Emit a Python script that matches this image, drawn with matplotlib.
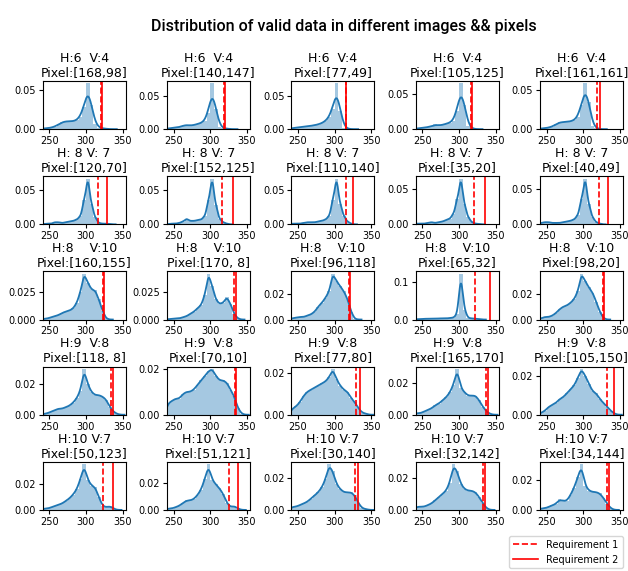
import math
import numpy as np
import matplotlib
matplotlib.use("Agg")
import matplotlib.pyplot as plt

# histogram bins shared by every panel (5 units wide)
bin_edges = np.arange(240, 356, 5)

row_labels = ["H:6  V:4", "H: 8 V: 7", "H:8    V:10", "H:9  V:8", "H:10 V:7"]
pixels = [
    ["[168,98]", "[140,147]", "[77,49]", "[105,125]", "[161,161]"],
    ["[120,70]", "[152,125]", "[110,140]", "[35,20]", "[40,49]"],
    ["[160,155]", "[170, 8]", "[96,118]", "[65,32]", "[98,20]"],
    ["[118, 8]", "[70,10]", "[77,80]", "[165,170]", "[105,150]"],
    ["[50,123]", "[51,121]", "[30,140]", "[32,142]", "[34,144]"],
]

# density per bin, one list per pixel
dens_h6 = [
    [0.001, 0.001, 0.002, 0.003, 0.006, 0.009, 0.010, 0.010, 0.010, 0.011, 0.016, 0.028, 0.058, 0.030, 0.006, 0.002, 0.001, 0.0005, 0, 0, 0, 0, 0],
    [0.001, 0.002, 0.002, 0.003, 0.005, 0.007, 0.005, 0.006, 0.008, 0.009, 0.012, 0.024, 0.069, 0.030, 0.004, 0.001, 0.001, 0, 0, 0, 0, 0, 0],
    [0.002, 0.002, 0.003, 0.004, 0.004, 0.005, 0.006, 0.007, 0.009, 0.012, 0.018, 0.030, 0.069, 0.028, 0.002, 0.0005, 0, 0, 0, 0, 0, 0, 0],
    [0.001, 0.002, 0.002, 0.003, 0.004, 0.007, 0.005, 0.006, 0.008, 0.009, 0.012, 0.026, 0.066, 0.035, 0.004, 0.001, 0, 0, 0, 0, 0, 0, 0],
    [0.001, 0.001, 0.002, 0.003, 0.006, 0.009, 0.009, 0.009, 0.010, 0.011, 0.015, 0.030, 0.058, 0.035, 0.004, 0.001, 0, 0, 0, 0, 0, 0, 0],
]
dens_h8v7 = [
    [0.0005, 0.001, 0.001, 0.003, 0.003, 0.002, 0.003, 0.004, 0.005, 0.007, 0.012, 0.035, 0.066, 0.030, 0.010, 0.002, 0.001, 0.001, 0.0005, 0, 0, 0, 0],
    [0.0005, 0.001, 0.001, 0.002, 0.004, 0.008, 0.005, 0.005, 0.006, 0.007, 0.012, 0.035, 0.066, 0.028, 0.008, 0.003, 0.001, 0, 0, 0, 0, 0, 0],
    [0.001, 0.001, 0.001, 0.002, 0.003, 0.003, 0.003, 0.004, 0.005, 0.007, 0.012, 0.035, 0.066, 0.030, 0.012, 0.004, 0.001, 0, 0, 0, 0, 0, 0],
    [0.001, 0.001, 0.001, 0.002, 0.003, 0.002, 0.003, 0.004, 0.006, 0.008, 0.015, 0.035, 0.064, 0.028, 0.010, 0.003, 0.001, 0.0005, 0, 0, 0, 0, 0],
    [0.002, 0.003, 0.003, 0.002, 0.002, 0.002, 0.003, 0.004, 0.005, 0.007, 0.013, 0.036, 0.064, 0.028, 0.010, 0.003, 0.001, 0, 0, 0, 0, 0, 0],
]
dens_h8v10 = [
    [0.0005, 0.001, 0.002, 0.003, 0.004, 0.006, 0.007, 0.008, 0.010, 0.015, 0.025, 0.041, 0.033, 0.027, 0.026, 0.018, 0.008, 0.001, 0, 0, 0, 0, 0],
    [0.0003, 0.0005, 0.001, 0.001, 0.002, 0.003, 0.005, 0.007, 0.010, 0.013, 0.022, 0.041, 0.030, 0.018, 0.014, 0.015, 0.020, 0.014, 0.005, 0.001, 0, 0, 0],
    [0.001, 0.0015, 0.002, 0.002, 0.003, 0.004, 0.006, 0.010, 0.013, 0.017, 0.022, 0.0357, 0.030, 0.026, 0.022, 0.016, 0.006, 0.0005, 0, 0, 0, 0, 0],
    [0.001, 0.001, 0.002, 0.002, 0.002, 0.002, 0.003, 0.003, 0.003, 0.004, 0.005, 0.014, 0.122, 0.026, 0.004, 0.003, 0.002, 0.001, 0, 0, 0, 0, 0],
    [0.001, 0.002, 0.002, 0.003, 0.005, 0.008, 0.010, 0.011, 0.013, 0.016, 0.022, 0.0357, 0.030, 0.025, 0.021, 0.014, 0.006, 0.001, 0, 0, 0, 0, 0],
]
dens_h9 = [
    [0.0005, 0.001, 0.002, 0.003, 0.004, 0.004, 0.005, 0.006, 0.008, 0.011, 0.016, 0.0303, 0.020, 0.015, 0.013, 0.013, 0.012, 0.010, 0.005, 0.002, 0.0005, 0, 0],
    [0.005, 0.006, 0.007, 0.007, 0.009, 0.010, 0.010, 0.011, 0.013, 0.015, 0.017, 0.019, 0.020, 0.017, 0.015, 0.015, 0.014, 0.011, 0.008, 0.003, 0.0005, 0, 0],
    [0.003, 0.004, 0.006, 0.009, 0.011, 0.012, 0.013, 0.014, 0.015, 0.016, 0.018, 0.022, 0.017, 0.014, 0.012, 0.011, 0.008, 0.006, 0.003, 0.001, 0.0005, 0, 0],
    [0.001, 0.001, 0.002, 0.003, 0.004, 0.006, 0.007, 0.009, 0.011, 0.014, 0.019, 0.0288, 0.017, 0.014, 0.012, 0.012, 0.012, 0.009, 0.005, 0.002, 0.0005, 0, 0],
    [0.001, 0.002, 0.004, 0.005, 0.006, 0.008, 0.009, 0.011, 0.013, 0.015, 0.019, 0.0235, 0.020, 0.016, 0.012, 0.011, 0.008, 0.006, 0.004, 0.002, 0.0005, 0, 0],
]
dens_h10 = [
    [0.001, 0.001, 0.002, 0.003, 0.004, 0.005, 0.007, 0.009, 0.012, 0.016, 0.024, 0.0357, 0.023, 0.019, 0.018, 0.010, 0.003, 0.002, 0.003, 0.001, 0, 0, 0],
    [0.001, 0.001, 0.002, 0.003, 0.005, 0.007, 0.007, 0.008, 0.011, 0.015, 0.023, 0.034, 0.022, 0.019, 0.016, 0.012, 0.005, 0.002, 0.003, 0.001, 0, 0, 0],
    [0.002, 0.002, 0.003, 0.004, 0.005, 0.007, 0.009, 0.011, 0.014, 0.019, 0.0286, 0.024, 0.016, 0.013, 0.011, 0.011, 0.011, 0.009, 0.004, 0.001, 0.0005, 0, 0],
    [0.002, 0.002, 0.002, 0.003, 0.004, 0.006, 0.008, 0.010, 0.012, 0.017, 0.0286, 0.024, 0.016, 0.013, 0.012, 0.012, 0.011, 0.008, 0.004, 0.001, 0, 0, 0],
    [0.001, 0.001, 0.002, 0.003, 0.004, 0.007, 0.006, 0.006, 0.010, 0.015, 0.022, 0.0307, 0.016, 0.013, 0.012, 0.012, 0.011, 0.008, 0.004, 0.001, 0, 0, 0],
]
densities = [dens_h6, dens_h8v7, dens_h8v10, dens_h9, dens_h10]

# kernel bandwidth used for the smoothed curve of each row
kde_bw = [4.0, 1.8, 2.2, 2.5, 2.8]

req1 = [
    [320, 318, 315.5, 316.5, 318],
    [316, 316, 315, 321, 321],
    [323.5, 332, 320, 322, 327],
    [334, 334, 329, 337, 332],
    [322.7, 326, 328, 333, 332.7],
]
req2 = [
    [321.5, 319.5, 316, 317.5, 322],
    [329, 330.5, 325.5, 335, 333],
    [325, 334.5, 320.5, 342.5, 327.5],
    [336.5, 335, 334, 339.5, 341.5],
    [337, 337.7, 331.5, 335.5, 334.5],
]

phi = np.vectorize(lambda z: 0.5 * (1 + math.erf(z / math.sqrt(2))))


def smooth_density(x, dens, bw):
    # each bin spread uniformly over its width, then blurred by a gaussian kernel
    y = np.zeros_like(x)
    for lo, hi, d in zip(bin_edges[:-1], bin_edges[1:], dens):
        if d > 0:
            y += d * (phi((x - lo) / bw) - phi((x - hi) / bw))
    return y


fig, axes = plt.subplots(5, 5, figsize=(6.28, 5.71), dpi=100)
fig.subplots_adjust(left=0.068, right=0.992, bottom=0.107, top=0.858,
                    wspace=0.5, hspace=0.98)

centers = (bin_edges[:-1] + bin_edges[1:]) / 2
for r in range(5):
    for c in range(5):
        ax = axes[r, c]
        dens = np.array(densities[r][c])
        ax.hist(centers, bins=bin_edges, weights=dens, color="C0", alpha=0.4)

        nz = np.nonzero(dens)[0]
        x = np.linspace(bin_edges[nz[0]], bin_edges[nz[-1] + 1] + 3 * kde_bw[r], 300)
        ax.plot(x, smooth_density(x, dens, kde_bw[r]), color="C0", lw=1.3)

        ax.axvline(req2[r][c], color="r", lw=1.2, label="Requirement 2")
        ax.axvline(req1[r][c], color="r", lw=1.2, ls="--", label="Requirement 1")

        ax.set_xlim(241, 354)
        ax.set_xticks([250, 300, 350])
        ax.tick_params(labelsize=7, length=3, pad=2)
        ax.set_title(row_labels[r] + "\nPixel:" + pixels[r][c], fontsize=9,
                     pad=3)

h, l = axes[0, 0].get_legend_handles_labels()
fig.legend(h[::-1], l[::-1], loc="lower right", bbox_to_anchor=(0.999, -0.004),
           fontsize=7, handlelength=2.6)

fig.suptitle("Distribution of valid data in different images && pixels",
             x=0.547, y=0.966, fontsize=11.5, fontweight="medium",
             family=["Roboto", "DejaVu Sans"])

fig.savefig("out.png", dpi=100)
